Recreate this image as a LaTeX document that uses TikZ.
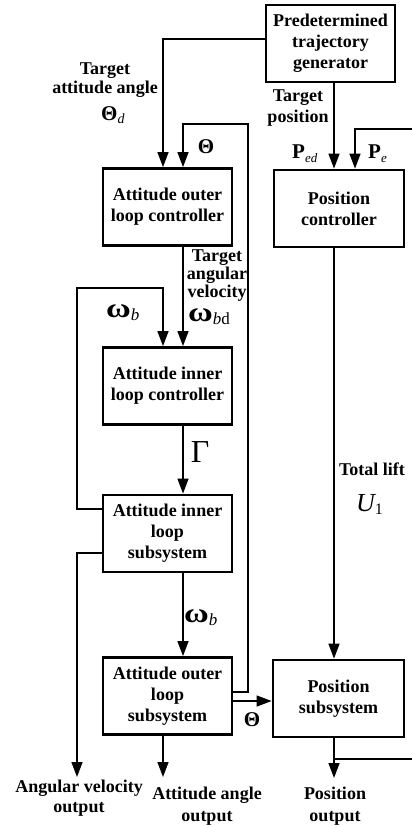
\documentclass[tikz,border=0pt]{standalone}
\usepackage{fontspec}
\setmainfont{Liberation Serif}
\usetikzlibrary{arrows.meta}
\newcommand{\bomega}{\scalebox{1.3}[1.05]{\textbf{ω}}}
\begin{document}
\begin{tikzpicture}[x=1pt,y=-1pt,
 blk/.style={draw,line width=2.8pt,minimum width=129pt,minimum height=77pt,align=center,
   font=\bfseries\fontsize{18}{21}\selectfont,inner sep=0pt},
 conn/.style={line width=1.4pt},
 arr/.style={conn,-{Triangle[length=15pt,width=11pt]}},
 lbl/.style={align=center,font=\bfseries\fontsize{18}{19}\selectfont,inner sep=0pt},
 sym/.style={inner sep=0pt,font=\fontsize{21}{24}\selectfont}]
\useasboundingbox (0,0) rectangle (412,827);
% blocks
\node[blk] (gen) at (330.5,43.5) {Predetermined\\trajectory\\generator};
\node[blk] (aoc) at (167.5,207) {Attitude outer\\loop controller};
\node[blk] (aic) at (167.5,386) {Attitude inner\\loop controller};
\node[blk] (ais) at (167.5,533.5) {Attitude inner\\loop\\subsystem};
\node[blk] (aos) at (167.5,696) {Attitude outer\\loop\\subsystem};
\node[blk,minimum width=130pt] (pc) at (339,208.5) {Position\\controller};
\node[blk,minimum width=131pt] (ps) at (338.5,698.5) {Position\\subsystem};
% helper coordinates
\coordinate (xL) at (163,0);
\coordinate (xR) at (183,0);
\coordinate (xP) at (334,0);
\coordinate (xPe) at (355,0);
\coordinate (xFL) at (77,0);
\coordinate (xFR) at (248,0);
\coordinate (yG) at (0,39);
\coordinate (yTh) at (0,692);
\coordinate (yTop) at (0,124);
\coordinate (yW) at (0,509);
\coordinate (yW2) at (0,288);
\coordinate (yAV) at (0,553);
\coordinate (yTh2) at (0,701);
\coordinate (av) at (77,777);
\coordinate (aa) at (163,777);
\coordinate (po) at (334,778);
\coordinate (bp) at (334,759);
\coordinate (re1) at (412,129);
\coordinate (re2) at (412,759);
% connectors
\draw[arr] (gen.west |- yG) -| (aoc.north -| xL);
\draw[arr] (gen.south -| xP) -- (pc.north -| xP);
\draw[arr] (aos.east |- yTh) -| (xFR |- yTop) -| (aoc.north -| xR);
\draw[arr] (aoc.south -| xR) -- (aic.north -| xR);
\draw[arr] (ais.west |- yW) -| (xFL |- yW2) -| (aic.north -| xL);
\draw[arr] (aic.south -| xR) -- (ais.north -| xR);
\draw[arr] (ais.west |- yAV) -| (av);
\draw[arr] (ais.south -| xR) -- (aos.north -| xR);
\draw[arr] (aos.south -| xL) -- (aa);
\draw[arr] (aos.east |- yTh2) -- (ps.west |- yTh2);
\draw[arr] (pc.south -| xP) -- (ps.north -| xP);
\draw[arr] (ps.south -| xP) -- (po);
\draw[conn] (bp) -- (re2);
\draw[arr] (re1) -| (pc.north -| xPe);
% labels
\node[lbl] (tgtatt) at (105,80.5) {Target\\attitude angle};
\node[sym,anchor=base west] (thd) at (101,120) {\textbf{Θ}\raisebox{-0.4ex}{\fontsize{14}{14}\selectfont\itshape d}};
\node[lbl,font=\bfseries\fontsize{18}{21}\selectfont] (tgtpos) at (298,108.5) {Target\\position};
\node[sym,anchor=base west] (ped) at (292,158) {\textbf{P}\raisebox{-0.5ex}{\fontsize{13}{13}\selectfont\itshape ed}};
\node[sym,anchor=base west] (pe) at (368,158) {\textbf{P}\raisebox{-0.5ex}{\fontsize{13}{13}\selectfont\itshape e}};
\node[sym] (thf) at (206,147) {\textbf{Θ}};
\node[lbl,font=\bfseries\fontsize{18}{18}\selectfont] (tav) at (217,276) {Target\\angular\\velocity};
\node[sym,anchor=base west,font=\fontsize{26}{26}\selectfont] (wbd) at (188,321) {\bomega\raisebox{-0.3ex}{\fontsize{17}{17}\selectfont\itshape b\upshape d}};
\node[sym,anchor=base west,font=\fontsize{26}{26}\selectfont] (wb1) at (106,317) {\bomega\raisebox{-0.3ex}{\fontsize{17}{17}\selectfont\itshape b}};
\node[sym,font=\fontsize{32}{32}\selectfont] (gam) at (200,452) {Γ};
\node[lbl] (tl) at (372,469) {Total lift};
\node[sym,anchor=base west,font=\fontsize{26}{26}\selectfont] (u1) at (356,511) {\itshape U\upshape\raisebox{-0.3ex}{\fontsize{16}{16}\selectfont 1}};
\node[sym,anchor=base west,font=\fontsize{26}{26}\selectfont] (wb2) at (184,622) {\bomega\raisebox{-0.3ex}{\fontsize{17}{17}\selectfont\itshape b}};
\node[sym] (thl) at (252,720) {\textbf{Θ}};
\node[lbl,font=\bfseries\fontsize{18}{20}\selectfont] (o1) at (79,798) {Angular velocity\\output};
\node[lbl,font=\bfseries\fontsize{18}{22}\selectfont] (o2) at (207,806) {Attitude angle\\output};
\node[lbl,font=\bfseries\fontsize{18}{22}\selectfont] (o3) at (335,806) {Position\\output};
\end{tikzpicture}
\end{document}
